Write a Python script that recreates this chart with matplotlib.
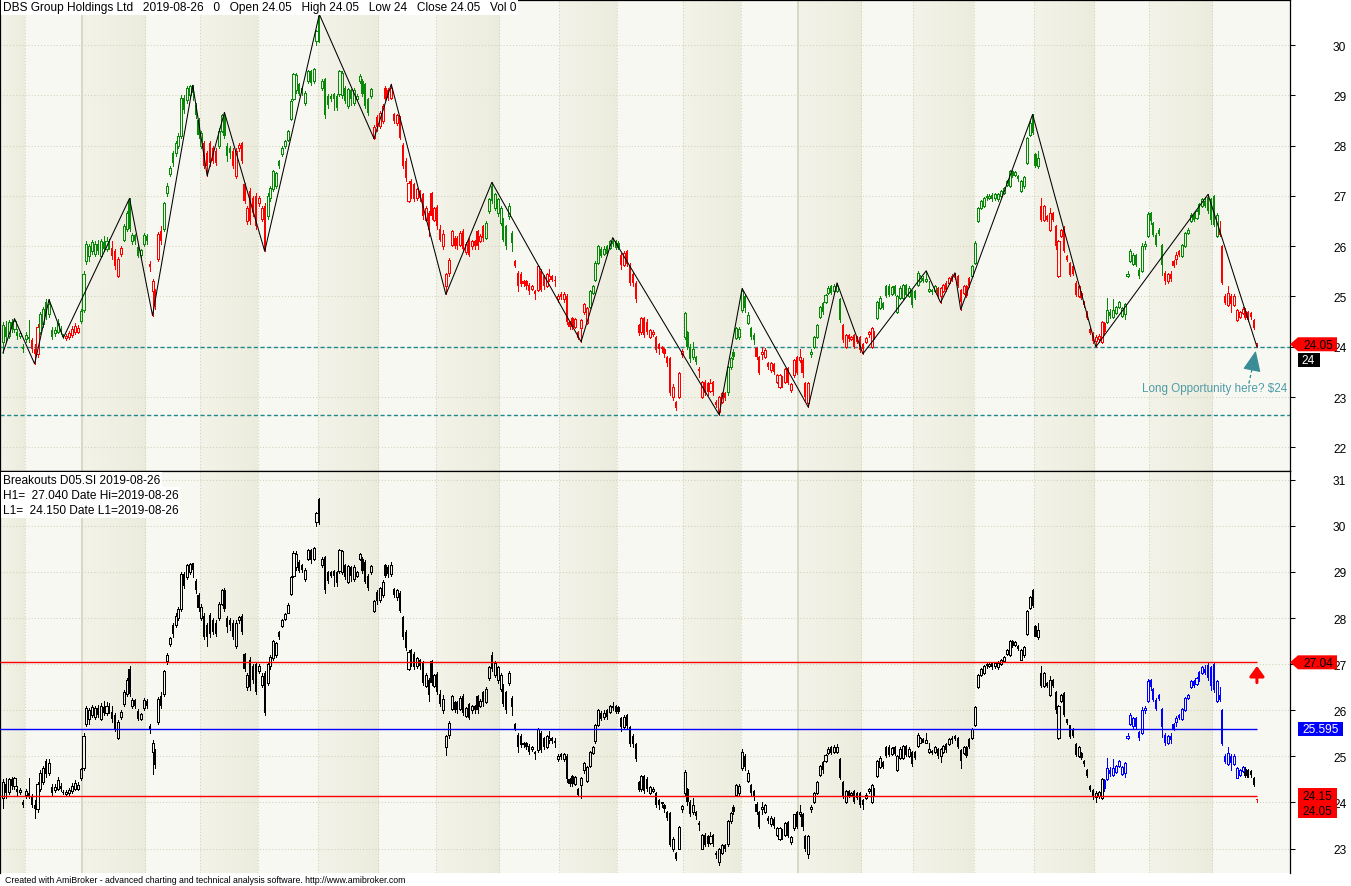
import numpy as np
import matplotlib.pyplot as plt
from matplotlib.patches import Polygon, Rectangle
from matplotlib.colors import LinearSegmentedColormap

plt.rcParams['font.family'] = ['Liberation Sans', 'DejaVu Sans']

# daily bars, 2017-11-22 .. 2019-08-26
opens = [
    24.10, 24.40, 24.22, 24.50, 24.35, 24.30, 24.22, 24.00, 24.16, 24.20,
    24.14, 23.95, 23.85, 24.30, 24.45, 24.90, 24.65, 24.34, 24.28, 24.30,
    24.35, 24.22, 24.18, 24.20, 24.24, 24.30, 24.30, 24.52, 24.74, 25.70,
    25.80, 25.90, 25.85, 26.05, 25.80, 26.08, 25.95, 26.10, 25.97, 25.90,
    25.40, 25.85, 26.13, 26.35, 26.90, 26.10, 26.22, 25.98, 25.82, 26.05,
    26.20, 25.65, 25.10, 25.10, 25.75, 26.30, 26.35, 27.06, 27.43, 27.85,
    27.85, 28.00, 28.20, 28.95, 28.90, 29.00, 29.20, 28.80, 28.50, 28.00,
    28.05, 27.85, 28.06, 27.95, 27.90, 28.00, 28.30, 28.60, 28.00, 27.95,
    27.90, 27.40, 27.95, 28.05, 27.23, 26.50, 27.10, 26.95, 27.00, 26.85,
    26.55, 26.80, 26.60, 26.95, 27.13, 27.20, 27.70, 27.83, 27.99, 28.12,
    28.52, 28.92, 29.10, 29.22, 29.15, 28.85, 29.29, 29.48, 29.28, 30.08,
    30.58, 29.15, 29.32, 28.99, 28.99, 29.02, 28.99, 29.02, 29.00, 29.15,
    28.79, 29.10, 28.85, 28.92, 29.29, 29.29, 29.22, 28.92, 28.99, 28.16,
    28.56, 28.39, 28.49, 29.15, 29.10, 28.95, 28.62, 28.45, 28.55, 28.02,
    27.70, 26.90, 27.30, 27.23, 26.96, 27.10, 27.03, 26.53, 26.66, 27.06,
    26.53, 26.78, 26.35, 26.00, 25.20, 25.47, 26.03, 26.17, 26.17, 26.03,
    26.30, 25.88, 26.13, 26.00, 26.10, 26.30, 26.10, 26.40, 26.17, 26.70,
    27.20, 26.76, 26.66, 26.46, 26.53, 26.40, 26.60, 26.26, 25.70, 25.47,
    25.45, 25.30, 25.30, 25.23, 25.15, 25.10, 25.13, 25.50, 25.40, 25.20,
    25.35, 25.40, 25.33, 24.95, 25.05, 24.95, 25.00, 24.50, 24.57, 24.40,
    24.30, 24.37, 24.70, 24.47, 24.80, 25.07, 25.33, 25.67, 25.95, 25.85,
    26.00, 25.97, 26.10, 26.10, 26.07, 25.83, 25.63, 25.90, 25.63, 25.45,
    25.27, 24.44, 24.30, 24.57, 24.50, 24.20, 24.25, 24.20, 24.05, 23.98,
    23.95, 23.80, 23.78, 23.00, 22.90, 23.00, 23.85, 24.20, 24.30, 24.00,
    23.80, 23.80, 23.55, 23.00, 23.30, 23.28, 23.12, 23.30, 22.90, 22.70,
    22.90, 23.08, 23.10, 23.60, 23.90, 24.17, 24.20, 24.74, 25.00, 24.47,
    24.37, 24.24, 23.97, 23.80, 23.85, 23.80, 23.67, 23.54, 23.65, 23.30,
    23.20, 23.40, 23.30, 23.57, 23.15, 23.44, 23.80, 23.74, 23.74, 23.28,
    22.88, 23.85, 24.00, 24.20, 24.60, 24.87, 24.90, 25.07, 25.20, 25.10,
    25.10, 24.94, 24.44, 24.00, 24.24, 24.16, 24.24, 24.20, 24.20, 24.05,
    24.10, 24.25, 24.00, 24.30, 24.57, 24.77, 24.87, 25.20, 25.20, 25.05,
    25.20, 24.70, 24.97, 24.97, 25.23, 25.00, 25.10, 25.10, 25.23, 25.30,
    25.37, 25.30, 25.10, 25.12, 25.10, 25.17, 25.00, 25.10, 25.27, 25.27,
    25.40, 25.45, 25.40, 25.13, 25.07, 25.20, 25.37, 25.40, 25.67, 26.50,
    26.76, 26.80, 27.00, 26.95, 27.02, 26.95, 26.93, 27.00, 27.06, 27.22,
    27.20, 27.50, 27.42, 27.40, 27.10, 27.19, 27.66, 28.22, 28.60, 27.83,
    27.60, 26.80, 26.53, 26.60, 26.33, 26.66, 26.40, 25.40, 26.20, 26.37,
    25.80, 25.67, 25.60, 25.27, 25.00, 25.07, 24.90, 24.70, 24.35, 24.27,
    24.12, 24.15, 24.10, 24.48, 24.50, 24.70, 24.60, 24.67, 24.80, 24.62,
    24.65, 25.40, 25.70, 25.65, 25.83, 25.53, 25.50, 26.00, 26.20, 26.66,
    26.46, 26.23, 26.33, 26.03, 25.47, 25.30, 25.45, 25.70, 25.75, 25.90,
    25.80, 26.00, 26.26, 26.50, 26.63, 26.56, 26.83, 26.80, 26.90, 26.98,
    26.93, 27.00, 26.20, 26.33, 26.00, 25.00, 24.84, 25.00, 24.84, 24.54,
    24.60, 24.68, 24.72, 24.70, 24.68, 24.54, 24.05,
]
highs = [
    24.50, 24.52, 24.54, 24.56, 24.56, 24.36, 24.32, 24.05, 24.30, 24.54,
    24.18, 24.05, 24.45, 24.70, 24.80, 24.94, 24.94, 24.40, 24.40, 24.55,
    24.42, 24.26, 24.26, 24.32, 24.42, 24.48, 24.44, 24.75, 25.50, 26.10,
    26.05, 26.12, 26.10, 26.12, 26.15, 26.20, 26.18, 26.15, 26.10, 25.95,
    25.78, 26.00, 26.45, 26.70, 26.95, 26.26, 26.25, 26.02, 25.95, 26.26,
    26.25, 25.70, 25.35, 25.15, 26.28, 26.40, 26.88, 27.25, 27.60, 27.90,
    28.10, 28.25, 29.00, 29.00, 29.18, 29.20, 29.20, 28.85, 28.55, 28.30,
    28.10, 27.90, 28.10, 28.00, 27.95, 28.35, 28.62, 28.66, 28.05, 28.00,
    27.95, 27.95, 28.05, 28.08, 27.25, 26.80, 27.15, 27.00, 27.05, 27.00,
    26.80, 26.85, 27.05, 27.20, 27.52, 27.48, 27.72, 27.99, 28.12, 28.32,
    28.92, 29.45, 29.45, 29.25, 29.18, 29.08, 29.50, 29.50, 29.55, 30.30,
    30.61, 29.32, 29.35, 29.02, 29.02, 29.05, 29.02, 29.50, 29.48, 29.18,
    29.15, 29.12, 29.15, 29.02, 29.42, 29.32, 29.25, 28.95, 29.15, 28.40,
    28.60, 28.68, 28.82, 29.18, 29.15, 29.22, 28.65, 28.62, 28.58, 28.05,
    27.75, 27.30, 27.33, 27.26, 27.15, 27.12, 27.06, 26.80, 26.70, 27.08,
    26.78, 26.82, 26.43, 26.33, 25.47, 25.76, 26.33, 26.20, 26.20, 26.30,
    26.35, 26.08, 26.16, 26.12, 26.12, 26.33, 26.25, 26.42, 26.50, 26.95,
    27.27, 27.06, 26.95, 26.80, 26.56, 26.42, 26.85, 26.30, 25.73, 25.50,
    25.48, 25.32, 25.32, 25.26, 25.22, 25.12, 25.62, 25.55, 25.42, 25.47,
    25.55, 25.42, 25.40, 25.05, 25.08, 25.08, 25.05, 24.52, 24.60, 24.57,
    24.32, 24.56, 24.88, 24.80, 25.12, 25.22, 25.70, 26.02, 25.98, 26.00,
    26.02, 26.12, 26.17, 26.12, 26.10, 25.86, 25.90, 25.92, 25.66, 25.48,
    25.30, 24.46, 24.60, 24.60, 24.55, 24.36, 24.33, 24.22, 24.07, 24.02,
    23.97, 23.82, 23.80, 23.25, 22.92, 23.50, 23.95, 24.70, 24.32, 24.05,
    24.10, 23.82, 23.60, 23.32, 23.33, 23.30, 23.35, 23.32, 22.95, 23.02,
    23.10, 23.10, 23.62, 23.80, 23.95, 24.40, 24.40, 25.16, 25.05, 24.70,
    24.40, 24.28, 24.00, 23.82, 24.00, 23.97, 23.70, 23.70, 23.68, 23.46,
    23.46, 23.42, 23.58, 23.60, 23.28, 23.76, 23.82, 23.95, 23.78, 23.30,
    23.30, 23.95, 24.22, 24.46, 24.82, 24.90, 25.05, 25.20, 25.22, 25.25,
    25.27, 24.96, 24.46, 24.26, 24.26, 24.22, 24.26, 24.22, 24.22, 24.08,
    24.20, 24.32, 24.40, 24.32, 24.92, 25.00, 24.90, 25.22, 25.25, 25.20,
    25.22, 25.02, 25.20, 25.25, 25.25, 25.20, 25.12, 25.12, 25.50, 25.42,
    25.40, 25.51, 25.30, 25.14, 25.22, 25.19, 25.19, 25.25, 25.30, 25.39,
    25.44, 25.47, 25.42, 25.15, 25.22, 25.22, 25.39, 25.62, 26.10, 26.78,
    26.92, 26.98, 27.03, 27.03, 27.05, 27.05, 27.06, 27.12, 27.18, 27.32,
    27.52, 27.52, 27.50, 27.42, 27.32, 27.40, 28.18, 28.48, 28.62, 27.86,
    27.90, 26.95, 26.82, 26.62, 26.75, 26.68, 26.42, 26.12, 26.35, 26.40,
    25.82, 25.69, 25.62, 25.30, 25.22, 25.10, 24.92, 24.72, 24.37, 24.29,
    24.24, 24.25, 24.52, 24.50, 24.97, 24.76, 24.95, 24.82, 24.92, 24.80,
    24.88, 25.50, 25.94, 25.86, 25.85, 25.56, 26.06, 26.10, 26.67, 26.68,
    26.48, 26.26, 26.36, 26.05, 25.50, 25.47, 25.50, 25.72, 25.88, 25.92,
    26.05, 26.28, 26.36, 26.65, 26.66, 26.72, 26.85, 26.95, 26.98, 27.03,
    26.95, 27.02, 26.66, 26.50, 26.02, 25.05, 25.20, 25.05, 25.05, 24.76,
    24.72, 24.80, 24.78, 24.72, 24.70, 24.56, 24.05,
]
lows = [
    23.88, 24.10, 24.18, 24.30, 24.30, 24.15, 24.18, 23.90, 24.10, 24.10,
    23.90, 23.66, 23.80, 24.25, 24.40, 24.55, 24.60, 24.15, 24.22, 24.28,
    24.25, 24.18, 24.14, 24.16, 24.20, 24.26, 24.28, 24.48, 24.70, 25.65,
    25.70, 25.85, 25.80, 25.85, 25.78, 25.90, 25.90, 25.95, 25.75, 25.55,
    25.38, 25.80, 26.10, 26.30, 26.30, 26.05, 26.05, 25.78, 25.78, 26.00,
    26.05, 25.50, 24.62, 24.75, 25.70, 26.05, 26.30, 27.00, 27.40, 27.60,
    27.80, 27.95, 28.15, 28.65, 28.85, 28.95, 28.90, 28.55, 28.15, 27.95,
    27.55, 27.40, 27.60, 27.65, 27.62, 27.95, 28.28, 28.15, 27.70, 27.75,
    27.55, 27.35, 27.90, 27.65, 26.85, 26.45, 26.45, 26.60, 26.35, 26.80,
    26.50, 25.90, 26.55, 26.90, 27.10, 27.15, 27.55, 27.80, 27.95, 28.10,
    28.50, 28.90, 29.05, 29.00, 29.00, 28.80, 29.25, 29.20, 29.25, 30.00,
    30.05, 29.10, 28.55, 28.75, 28.88, 28.70, 28.70, 28.98, 28.95, 28.85,
    28.75, 28.80, 28.80, 28.90, 29.25, 28.98, 28.75, 28.60, 28.95, 28.14,
    28.30, 28.35, 28.45, 28.90, 28.90, 28.92, 28.45, 28.40, 28.14, 27.55,
    27.30, 26.88, 26.95, 26.90, 26.92, 26.90, 26.55, 26.50, 26.20, 26.55,
    26.50, 26.35, 26.10, 25.95, 25.04, 25.40, 26.00, 25.97, 25.95, 26.00,
    25.90, 25.85, 25.80, 25.95, 25.95, 25.95, 26.08, 26.10, 26.15, 26.65,
    26.85, 26.72, 26.60, 26.42, 26.10, 25.95, 26.55, 25.90, 25.58, 25.10,
    25.20, 25.20, 25.15, 25.05, 25.12, 24.95, 25.10, 25.10, 25.15, 25.18,
    25.30, 25.30, 25.20, 24.90, 24.95, 24.90, 24.45, 24.35, 24.35, 24.38,
    24.15, 24.10, 24.65, 24.45, 24.78, 25.05, 25.30, 25.65, 25.78, 25.82,
    25.82, 25.95, 26.00, 25.95, 25.95, 25.55, 25.60, 25.60, 25.22, 25.20,
    24.90, 24.24, 24.25, 24.20, 24.25, 24.18, 24.22, 23.90, 23.85, 23.90,
    23.80, 23.62, 23.05, 22.95, 22.75, 22.98, 23.80, 24.15, 23.95, 23.70,
    23.75, 23.65, 23.40, 22.98, 23.05, 23.05, 23.10, 23.05, 22.80, 22.65,
    22.88, 22.95, 23.05, 23.55, 23.75, 24.15, 24.15, 24.70, 24.70, 24.45,
    24.15, 24.05, 23.75, 23.45, 23.75, 23.78, 23.55, 23.50, 23.45, 23.28,
    23.18, 23.20, 23.28, 23.25, 23.10, 23.40, 23.45, 23.70, 23.40, 22.95,
    22.80, 23.80, 23.98, 24.18, 24.58, 24.65, 24.88, 25.05, 25.05, 25.08,
    25.08, 24.50, 24.10, 23.98, 24.12, 24.14, 23.98, 24.08, 23.90, 23.86,
    24.08, 24.20, 23.98, 24.15, 24.55, 24.75, 24.75, 24.98, 25.00, 25.02,
    25.02, 24.68, 24.95, 24.95, 25.00, 24.98, 24.80, 24.95, 25.20, 25.28,
    25.28, 25.28, 25.08, 25.05, 25.08, 24.97, 24.88, 25.08, 25.10, 25.25,
    25.30, 25.35, 25.18, 24.74, 25.05, 24.98, 25.18, 25.38, 25.65, 26.48,
    26.74, 26.78, 26.92, 26.93, 26.90, 26.92, 26.90, 26.98, 27.04, 27.20,
    27.18, 27.38, 27.40, 27.30, 27.08, 27.15, 27.64, 28.20, 28.24, 27.58,
    27.55, 26.50, 26.50, 26.50, 26.30, 26.50, 25.95, 25.38, 26.18, 25.88,
    25.70, 25.40, 25.42, 25.00, 24.98, 24.95, 24.80, 24.55, 24.25, 24.08,
    24.00, 24.10, 24.08, 24.25, 24.48, 24.58, 24.58, 24.65, 24.78, 24.60,
    24.55, 25.38, 25.68, 25.62, 25.60, 25.36, 25.48, 25.95, 26.18, 26.45,
    26.20, 26.00, 26.22, 25.43, 25.25, 25.27, 25.30, 25.58, 25.65, 25.80,
    25.78, 25.98, 26.24, 26.48, 26.50, 26.54, 26.64, 26.78, 26.78, 26.65,
    26.45, 26.40, 26.18, 26.20, 25.25, 24.85, 24.82, 24.70, 24.82, 24.52,
    24.58, 24.66, 24.55, 24.52, 24.55, 24.35, 24.00,
]
closes = [
    24.44, 24.20, 24.50, 24.35, 24.52, 24.22, 24.28, 23.95, 24.24, 24.15,
    23.95, 23.85, 24.40, 24.65, 24.75, 24.62, 24.85, 24.20, 24.34, 24.48,
    24.30, 24.20, 24.22, 24.28, 24.36, 24.42, 24.38, 24.72, 25.45, 26.05,
    26.00, 26.08, 26.05, 25.90, 26.10, 25.95, 26.10, 26.00, 25.80, 25.60,
    25.75, 25.97, 26.40, 26.65, 26.35, 26.22, 26.10, 25.80, 25.92, 26.22,
    26.10, 25.58, 25.30, 24.82, 26.25, 26.10, 26.85, 27.20, 27.56, 27.66,
    28.05, 28.20, 28.95, 28.70, 29.15, 29.18, 29.05, 28.60, 28.22, 28.25,
    27.60, 27.60, 27.66, 27.70, 27.66, 28.30, 28.60, 28.20, 27.80, 27.85,
    27.60, 27.90, 28.02, 27.70, 26.90, 26.76, 26.50, 26.65, 26.40, 26.95,
    26.75, 25.95, 27.00, 27.15, 27.50, 27.45, 27.60, 27.96, 28.09, 28.29,
    28.89, 29.42, 29.40, 29.03, 29.05, 29.05, 29.48, 29.25, 29.52, 30.28,
    30.12, 29.29, 28.60, 28.80, 28.92, 28.92, 28.75, 29.48, 29.45, 28.89,
    29.12, 28.92, 29.10, 28.99, 29.38, 29.02, 28.79, 28.65, 29.12, 28.36,
    28.36, 28.65, 28.79, 28.92, 28.95, 29.15, 28.49, 28.60, 28.16, 27.59,
    27.35, 27.26, 27.00, 26.94, 27.13, 26.95, 26.60, 26.76, 26.33, 26.60,
    26.76, 26.40, 26.13, 26.25, 25.45, 25.73, 26.30, 26.00, 26.00, 26.26,
    25.95, 26.05, 25.83, 26.10, 26.00, 26.00, 26.20, 26.17, 26.46, 26.93,
    26.90, 27.03, 26.93, 26.76, 26.13, 26.00, 26.80, 26.07, 25.60, 25.20,
    25.25, 25.25, 25.20, 25.10, 25.20, 25.05, 25.60, 25.13, 25.20, 25.45,
    25.40, 25.33, 25.30, 25.00, 24.98, 25.05, 24.50, 24.40, 24.40, 24.55,
    24.17, 24.54, 24.86, 24.77, 25.10, 25.20, 25.67, 26.00, 25.80, 25.95,
    25.85, 26.10, 26.05, 25.97, 25.97, 25.63, 25.86, 25.65, 25.27, 25.27,
    24.94, 24.27, 24.57, 24.24, 24.30, 24.34, 24.30, 23.94, 23.95, 24.00,
    23.85, 23.67, 23.08, 23.20, 22.78, 23.47, 23.92, 24.67, 24.00, 23.75,
    23.95, 23.70, 23.52, 23.30, 23.08, 23.10, 23.28, 23.10, 22.85, 23.00,
    23.08, 22.98, 23.60, 23.78, 23.80, 24.37, 24.35, 25.10, 24.77, 24.64,
    24.20, 24.14, 23.80, 23.47, 23.90, 23.94, 23.60, 23.67, 23.50, 23.44,
    23.44, 23.25, 23.55, 23.28, 23.25, 23.74, 23.47, 23.80, 23.47, 23.00,
    23.27, 23.90, 24.20, 24.44, 24.80, 24.70, 25.03, 25.17, 25.07, 25.20,
    25.20, 24.54, 24.14, 24.24, 24.15, 24.20, 24.00, 24.10, 23.94, 23.95,
    24.17, 24.30, 24.37, 24.20, 24.90, 24.97, 24.77, 25.00, 25.03, 25.18,
    25.05, 25.00, 25.17, 25.23, 25.03, 25.17, 24.83, 24.97, 25.47, 25.40,
    25.30, 25.35, 25.15, 25.08, 25.20, 25.00, 25.17, 25.23, 25.13, 25.37,
    25.35, 25.37, 25.20, 24.90, 25.20, 25.00, 25.20, 25.60, 26.06, 26.76,
    26.90, 26.95, 26.95, 27.00, 26.93, 27.03, 27.03, 27.10, 27.16, 27.30,
    27.50, 27.40, 27.48, 27.33, 27.30, 27.38, 28.16, 28.45, 28.26, 27.60,
    27.75, 26.53, 26.80, 26.53, 26.66, 26.53, 26.00, 26.10, 26.33, 25.90,
    25.73, 25.43, 25.45, 25.03, 25.20, 24.97, 24.84, 24.57, 24.28, 24.12,
    24.20, 24.22, 24.50, 24.30, 24.74, 24.62, 24.74, 24.80, 24.90, 24.78,
    24.86, 25.45, 25.90, 25.83, 25.63, 25.40, 26.00, 26.05, 26.64, 26.50,
    26.23, 26.03, 26.25, 25.63, 25.30, 25.45, 25.35, 25.60, 25.83, 25.83,
    26.03, 26.26, 26.33, 26.63, 26.53, 26.70, 26.66, 26.93, 26.80, 26.70,
    26.53, 26.43, 26.63, 26.23, 25.27, 24.87, 25.07, 24.85, 25.00, 24.74,
    24.70, 24.76, 24.58, 24.54, 24.60, 24.37, 24.05,
]

# zigzag turning points (bar index, price)
zz_idx = [0, 4, 11, 16, 21, 44, 52, 66, 71, 77, 91, 110, 129, 135, 154, 170,
          201, 212, 249, 257, 280, 290, 299, 321, 326, 331, 333, 358, 380, 419, 436]
zz_val = [23.88, 24.56, 23.66, 24.94, 24.18, 26.95, 24.62, 29.20, 27.40, 28.66,
          25.90, 30.61, 28.14, 29.22, 25.04, 27.27, 24.10, 26.17, 22.65, 25.16,
          22.80, 25.27, 23.86, 25.51, 24.88, 25.47, 24.74, 28.62, 24.00, 27.03, 24.00]

# candle colour runs (first bar of each run)
top_run_start = [0, 10, 13, 22, 27, 38, 42, 51, 56, 70, 75, 80, 92, 129, 168, 178,
                 204, 215, 237, 242, 252, 262, 281, 292, 304, 325, 337, 361, 384, 404, 410, 423]
top_run_color = ['g', 'r'] * 16
bot_run_start = [0, 383, 432, 436]
bot_run_color = ['black', 'blue', 'black', 'red']

# first bar of each month (Dec 2017 .. Aug 2019), first bars of January
month_first = [8, 28, 50, 69, 89, 110, 131, 151, 173, 194, 214, 237, 257, 277,
               299, 317, 338, 359, 380, 399, 421]
year_first = [28, 277]

support_lines = [24.0, 22.65]
h1, mid, l1 = 27.04, 25.595, 24.15
last_close, zz_last = 24.05, 24.0

title = ("DBS Group Holdings Ltd   2019-08-26   0   Open 24.05   High 24.05   "
         "Low 24   Close 24.05   Vol 0")
info_lines = ["Breakouts D05.SI 2019-08-26",
              "H1=  27.040 Date Hi=2019-08-26",
              "L1=  24.150 Date L1=2019-08-26"]

GREEN = '#088A08'
RED = '#FF0000'
TEAL = '#1F8A8C'
LIGHT_BG = '#F8F8F3'

W, H = 1351, 887
fig = plt.figure(figsize=(W / 100, H / 100), dpi=100)
fig.patch.set_facecolor('white')


def px_axes(x0, y0, x1, y1):
    return fig.add_axes([x0 / W, 1 - y1 / H, (x1 - x0) / W, (y1 - y0) / H])


ax1 = px_axes(0, 1, 1290, 472)
ax2 = px_axes(0, 472, 1290, 874)

n = len(closes)
xs = np.arange(n)
o = np.array(opens)
c = np.array(closes)
hi = np.array(highs)
lo = np.array(lows)
XLIM = (-1.04, 447.5)

shade_cmap = LinearSegmentedColormap.from_list('shade', ['#F3F3E9', '#ECECDE'])


def background(ax, ylo, yhi):
    ax.set_facecolor(LIGHT_BG)
    edges = [XLIM[0]] + [m - 0.5 for m in month_first] + [XLIM[1]]
    for k in range(len(edges) - 1):
        if k % 2 == 0:
            ax.imshow(np.linspace(0, 1, 32).reshape(1, -1), cmap=shade_cmap,
                      extent=[edges[k], edges[k + 1], ylo, yhi], aspect='auto',
                      zorder=0, interpolation='bilinear')
    for m in month_first:
        if m in year_first:
            ax.axvline(m - 0.5, color='#D6D6C4', lw=1.3, zorder=1)
        else:
            ax.axvline(m - 0.5, color='#D2D2B8', lw=0.75, ls=(0, (1, 2)), zorder=1)
    for v in range(int(np.ceil(ylo)), int(yhi) + 1):
        ax.axhline(v, color='#D2D2B8', lw=0.75, ls=(0, (1, 2)), zorder=1)


def candles(ax, cols):
    cols = np.array(cols)
    top = np.maximum(o, c)
    bot = np.minimum(o, c)
    up = c > o
    hgt = np.maximum(top - bot, 0.02)
    ax.vlines(xs, top, hi, colors=cols, lw=0.72, zorder=3, antialiased=False)
    ax.vlines(xs, lo, bot, colors=cols, lw=0.72, zorder=3, antialiased=False)
    ax.bar(xs[~up], hgt[~up], bottom=bot[~up], width=0.75, color=cols[~up],
           lw=0, zorder=4, antialiased=False)
    ax.bar(xs[up], hgt[up], bottom=bot[up], width=0.72, facecolor='none',
           edgecolor=cols[up], lw=0.72, zorder=4, antialiased=False)


def run_colors(starts, names, palette):
    pos = np.searchsorted(starts, xs, side='right') - 1
    return [palette.get(names[p], names[p]) for p in pos]


def style(ax, ylim, ticks):
    ax.set_xlim(*XLIM)
    ax.set_ylim(*ylim)
    ax.set_xticks([])
    ax.yaxis.tick_right()
    ax.set_yticks(ticks)
    ax.set_yticklabels([str(t) for t in ticks])
    ax.tick_params(axis='y', direction='out', length=3.6, width=0.75,
                   pad=27.4, labelsize=8.6, colors='black')
    for s in ax.spines.values():
        s.set_color('black')
        s.set_linewidth(0.9)


# ---- top panel
Y1 = (21.53, 30.895)
background(ax1, *Y1)
for v in support_lines:
    ax1.axhline(v, color=TEAL, lw=1.0, ls=(0, (3, 1.8)), zorder=2)
candles(ax1, run_colors(top_run_start, top_run_color, {'g': GREEN, 'r': RED}))
ax1.plot(zz_idx, zz_val, color='black', lw=0.75, zorder=5)
ax1.plot([433.2, 434.9], [23.27, 23.72], color=TEAL, lw=0.9, ls=(0, (2.5, 2)), zorder=6)
ax1.annotate('', xy=(435.6, 23.92), xytext=(434.9, 23.72),
             arrowprops=dict(arrowstyle='-|>,head_length=0.8,head_width=0.35',
                             color='#3A8C96', lw=0.9, mutation_scale=16,
                             shrinkA=0, shrinkB=0), zorder=6)
ax1.text(446.6, 23.18, 'Long Opportunity here? $24', ha='right', va='center',
         fontsize=8.4, color='#4E9CA7', zorder=6)
style(ax1, Y1, list(range(22, 31)))

# ---- bottom panel
Y2 = (22.47, 31.19)
background(ax2, *Y2)
candles(ax2, run_colors(bot_run_start, bot_run_color, {}))
ax2.hlines([h1, l1], XLIM[0], n - 1, colors='red', lw=1, zorder=5)
ax2.hlines(mid, XLIM[0], n - 1, colors='blue', lw=1, zorder=5)
ax2.annotate('', xy=(n - 1, 26.96), xytext=(n - 1, 26.6),
             arrowprops=dict(arrowstyle='-|>,head_length=0.55,head_width=0.4',
                             color='red', lw=2.2, mutation_scale=11,
                             shrinkA=0, shrinkB=0), zorder=6)
style(ax2, Y2, list(range(23, 32)))
ax2.spines['bottom'].set_visible(False)

# ---- overlay in pixel coordinates for labels and price tags
ov = fig.add_axes([0, 0, 1, 1], zorder=10)
ov.set_xlim(0, W)
ov.set_ylim(H, 0)
ov.axis('off')
ov.patch.set_alpha(0)


def ypx(ax, v):
    return H - ax.transData.transform((0, v))[1]


def pointer_tag(y, text, fc, tc):
    ov.add_patch(Polygon([(1290, y), (1298, y - 7), (1337, y - 7), (1337, y + 7),
                          (1298, y + 7)], closed=True, fc=fc, ec='none'))
    ov.text(1318, y + 0.5, text, ha='center', va='center', fontsize=8.6, color=tc)


y = ypx(ax1, last_close)
pointer_tag(y, f'{last_close:.2f}', RED, 'black')
ov.add_patch(Rectangle((1298, y + 8.5), 22, 14.5, fc='black', ec='none'))
ov.text(1301, y + 16, f'{zz_last:g}', ha='left', va='center', fontsize=8.6, color='white')

pointer_tag(ypx(ax2, h1), f'{h1:.2f}', RED, 'black')
y = ypx(ax2, mid)
ov.add_patch(Rectangle((1298, y - 6.5), 45, 13.5, fc='blue', ec='none'))
ov.text(1320.5, y + 0.5, f'{mid:.3f}', ha='center', va='center', fontsize=8.6, color='white')
y = ypx(ax2, l1)
ov.add_patch(Rectangle((1298, y - 7.5), 39, 29.5, fc=RED, ec='none'))
ov.text(1317.5, y + 0.5, f'{l1:.2f}', ha='center', va='center', fontsize=8.6, color='black')
ov.text(1317.5, y + 15, f'{last_close:.2f}', ha='center', va='center', fontsize=8.6, color='black')

box = dict(fc='white', ec='none', pad=1.2)
ov.text(3, 8.5, title, ha='left', va='center', fontsize=8.6, color='black', bbox=box)
for k, line in enumerate(info_lines):
    ov.text(3, 481 + 15 * k, line, ha='left', va='center', fontsize=8.6,
            color='black', bbox=box)
ov.text(5, 880.5, 'Created with AmiBroker - advanced charting and technical analysis '
        'software. http://www.amibroker.com', ha='left', va='center', fontsize=6.3,
        color='black')

fig.savefig('out.png', dpi=100)
